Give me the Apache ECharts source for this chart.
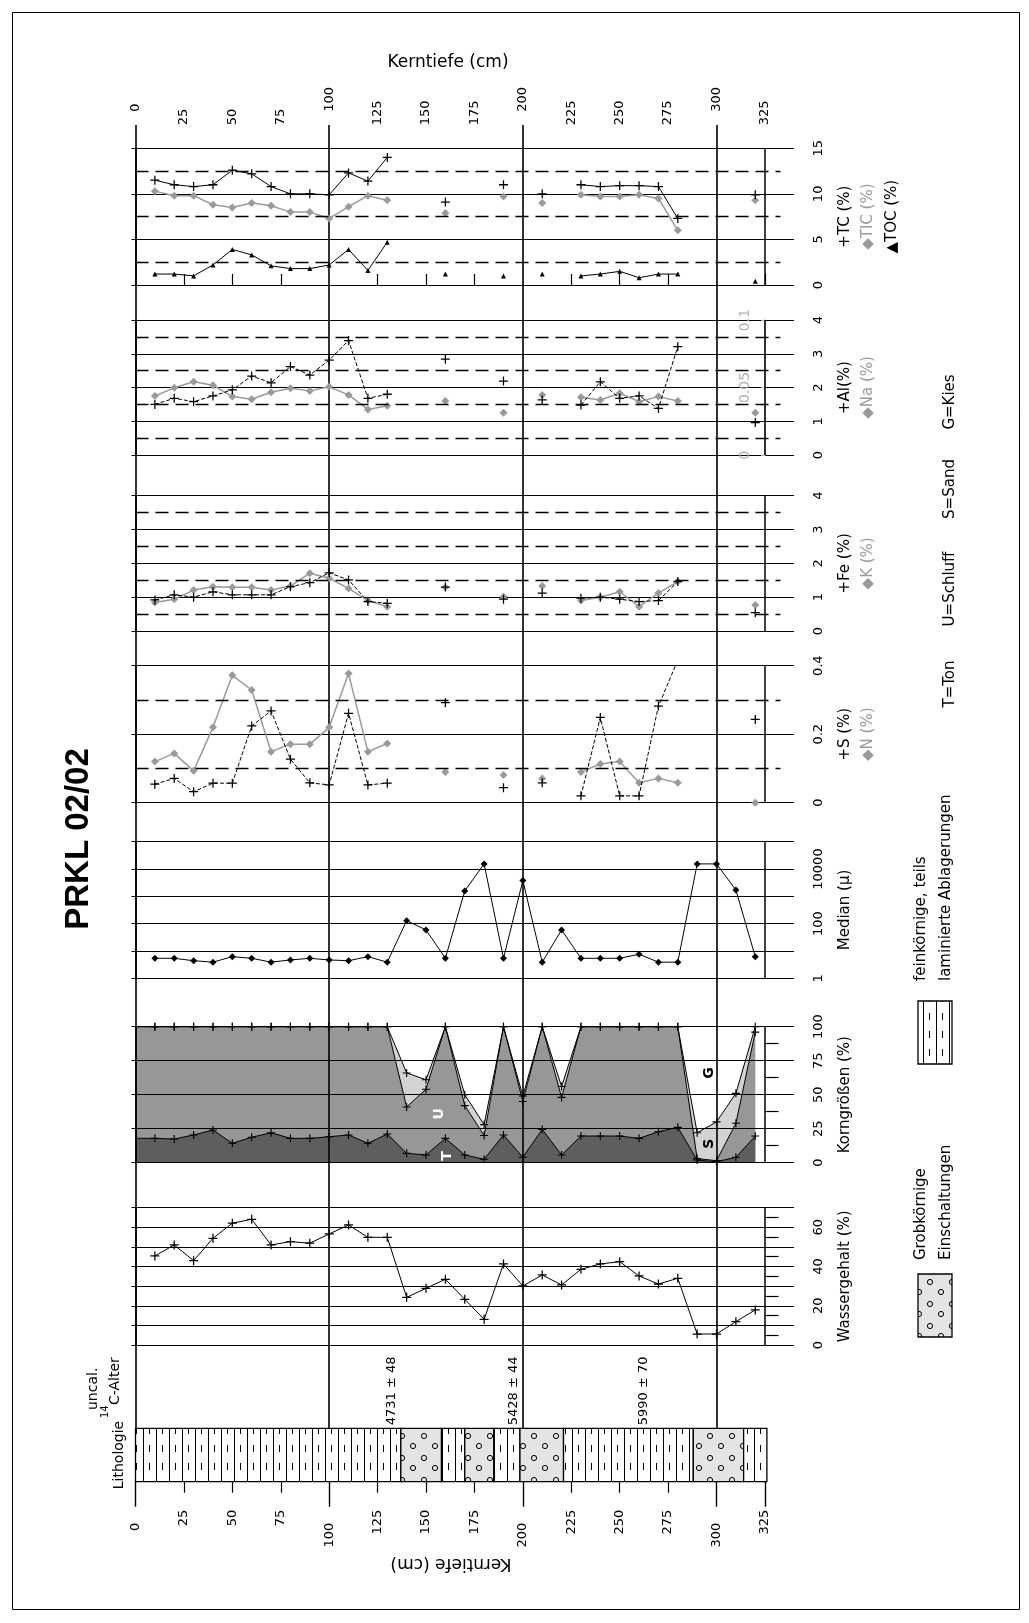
<!DOCTYPE html>
<html>
<head>
<meta charset="utf-8">
<script src="https://cdn.jsdelivr.net/npm/echarts@6/dist/echarts.min.js"></script>
<style>
  html, body { margin: 0; padding: 0; background: #fff; }
  #chart { width: 1029px; height: 1623px; }
</style>
</head>
<body>
<div id="chart"></div>
<script>
// Core PRKL 02/02 — sample depths (cm) and measured profiles
const depths = [10,20,30,40,50,60,70,80,90,100,110,120,130,140,150,160,170,180,190,200,210,220,230,240,250,260,270,280,290,300,310,320];

const tc  = [11.5,11.0,10.8,11.0,12.6,12.2,10.8,10.0,10.0,9.9,12.3,11.4,14.0,null,null,9.1,null,null,11.0,null,10.0,null,11.0,10.8,10.9,10.9,10.8,7.3,null,null,null,9.9];
const tic = [10.3,9.8,9.8,8.8,8.5,9.0,8.7,8.0,8.0,7.3,8.6,9.8,9.3,null,null,7.9,null,null,9.7,null,9.0,null,9.9,9.7,9.7,9.9,9.5,6.0,null,null,null,9.3];
const toc = [1.2,1.2,1.0,2.2,3.9,3.3,2.1,1.8,1.8,2.2,3.9,1.6,4.7,null,null,1.2,null,null,1.0,null,1.2,null,1.0,1.2,1.5,0.8,1.2,1.2,null,null,null,0.4];

const al  = [1.50,1.68,1.58,1.75,1.93,2.34,2.14,2.62,2.37,2.81,3.39,1.68,1.80,null,null,2.84,null,null,2.19,null,1.63,null,1.48,2.17,1.68,1.75,1.38,3.21,null,null,null,0.96];
const na  = [1.75,1.99,2.17,2.07,1.73,1.65,1.86,1.98,1.90,2.02,1.78,1.35,1.46,null,null,1.60,null,null,1.25,null,1.78,null,1.71,1.63,1.83,1.58,1.73,1.60,null,null,null,1.25];

const fe  = [0.92,1.07,1.00,1.16,1.07,1.07,1.07,1.31,1.43,1.72,1.51,0.87,0.82,null,null,1.30,null,null,0.94,null,1.12,null,0.97,1.00,0.94,0.87,0.90,1.46,null,null,null,0.54];
const k   = [0.84,0.94,1.21,1.31,1.29,1.29,1.21,1.33,1.71,1.56,1.26,0.90,0.72,null,null,1.29,null,null,1.01,null,1.33,null,0.90,1.00,1.16,0.72,1.12,1.46,null,null,null,0.77];

const s   = [0.054,0.071,0.032,0.057,0.057,0.224,0.268,0.127,0.058,0.052,0.261,0.052,0.057,null,null,0.292,null,null,0.044,null,0.058,null,0.020,0.249,0.020,0.020,0.282,0.416,null,null,null,0.243];
const n   = [0.120,0.144,0.093,0.220,0.372,0.329,0.149,0.171,0.171,0.220,0.377,0.149,0.173,null,null,0.090,null,null,0.081,null,0.071,null,0.090,0.113,0.120,0.058,0.071,0.058,null,null,null,0.000];

const median = [5.4,5.4,4.4,3.9,6.2,5.4,3.9,4.7,5.4,4.7,4.4,6.2,3.9,129,59,5.4,1580,15400,5.4,3780,3.9,59,5.4,5.4,5.4,7.6,3.9,3.9,15400,15400,1700,6.2];

// grain size, cumulative: Ton, Ton+Schluff, Ton+Schluff+Sand (%)
const grainT   = [17.9,17.4,20.4,24.0,14.3,18.7,22.0,17.9,17.9,19.1,20.4,14.3,21.1,6.9,5.7,17.9,5.7,2.5,20.4,4.0,24.5,5.7,19.6,19.6,19.6,17.9,22.8,26.0,2.0,0.7,4.0,19.6];
const grainTU  = [100,100,100,100,100,100,100,100,100,100,100,100,100,41,54,100,42,20,100,45,100,48,100,100,100,100,100,100,3,1.5,29,96];
const grainTUS = [100,100,100,100,100,100,100,100,100,100,100,100,100,66,61,100,50,28,100,49,100,56,100,100,100,100,100,100,22,30,51,100];

const water = [45.4,51.0,43.0,54.4,62.1,64.1,51.0,52.7,51.9,56.6,61.2,54.9,54.9,24.3,28.9,33.5,23.3,13.1,41.3,30.1,35.7,30.6,38.6,41.3,42.5,35.2,31.1,34.0,5.6,5.6,11.9,17.9];

// lithology column: from / to (cm), 0 = feinkörnig laminiert, 1 = grobkörnig
const lithFrom = [0,137,158,170,185,198.5,221,288,314];
const lithTo   = [137,158,170,185,198.5,221,288,314,326];
const lithKind = [0,1,0,1,0,1,0,1,0];

// uncalibrated 14C ages
const ageDepth = [132,195,262.5];
const ageLabel = ['4731 \u00b1 48','5428 \u00b1 44','5990 \u00b1 70'];

// grain-size class letters: [depth, %]
const classLetters = [
  {t:'U', d:157, v:36, c:'#fff'},
  {t:'T', d:161, v:5,  c:'#fff'},
  {t:'S', d:296.5, v:14, c:'#000'},
  {t:'G', d:296.5, v:66, c:'#000'}
];

// depth-axis tick values
const depthMinor = [25,50,75,125,150,175,225,250,275,325];
const depthMajor = [0,100,200,300];

// ---------------------------------------------------------------
const FONT = '"DejaVu Sans", sans-serif';
const PLUS = 'path://M4.3,0H5.7V4.3H10V5.7H5.7V10H4.3V5.7H0V4.3H4.3Z';
const GRAY = '#9a9a9a';
const pairs = arr => depths.map((d, i) => [d, arr[i]]);
// area layers start at the core top, carrying the uppermost sample value
const areaPairs = arr => [{value: [0, arr[0]], symbol: 'none'}].concat(pairs(arr));

function mkFine() {
  const c = document.createElement('canvas'); c.width = 13; c.height = 18;
  const g = c.getContext('2d');
  g.fillStyle = '#fff'; g.fillRect(0, 0, 13, 18);
  g.strokeStyle = '#000'; g.lineWidth = 1;
  g.beginPath(); g.moveTo(0.5, 0); g.lineTo(0.5, 18); g.stroke();
  g.beginPath(); g.moveTo(6.5, 5); g.lineTo(6.5, 12); g.stroke();
  return c;
}
function mkCoarse() {
  const c = document.createElement('canvas'); c.width = 22; c.height = 22;
  const g = c.getContext('2d');
  g.fillStyle = '#e4e4e4'; g.fillRect(0, 0, 22, 22);
  g.strokeStyle = '#000'; g.lineWidth = 1;
  [[6,6],[17,16]].forEach(([x,y]) => { g.beginPath(); g.arc(x, y, 2.6, 0, Math.PI*2); g.stroke(); });
  return c;
}
const patterns = [
  {image: mkFine(), repeat: 'repeat'},
  {image: mkCoarse(), repeat: 'repeat'}
];

const L = 135.5, W = 658.5;
const grid = (top, height) => ({left: L, width: W, top, height, outerBoundsMode: 'none', containLabel: false});
const panels = {
  bg:    grid(125, 1303.3),
  tc:    grid(148.3, 136.7),
  al:    grid(320, 135),
  fe:    grid(495.7, 135.3),
  s:     grid(665.7, 137),
  med:   grid(841.7, 136.6),
  grain: grid(1026.7, 136),
  water: grid(1207.7, 137.3),
  lith:  grid(1428.3, 53.4)
};
const gridList = [panels.bg, panels.tc, panels.al, panels.fe, panels.s, panels.med, panels.grain, panels.water, panels.lith];

const hiddenX = gi => ({type: 'value', gridIndex: gi, min: 0, max: 340, show: false});
const labelStyle = {color: '#000', fontFamily: FONT, fontSize: 13};

const xAxes = [
  {type: 'value', gridIndex: 0, min: 0, max: 340, interval: 100, position: 'top', z: 3,
   axisLine: {show: false}, axisTick: {show: false}, axisLabel: {show: false},
   splitLine: {show: true, showMaxLine: false, lineStyle: {color: '#000', width: 1.6}}},
  {type: 'value', gridIndex: 1, min: 0, max: 340, position: 'top',
   axisLine: {show: false}, splitLine: {show: false},
   axisTick: {show: true, length: 11, customValues: depthMinor, lineStyle: {color: '#000', width: 1.2}},
   axisLabel: Object.assign({customValues: depthMinor, rotate: 90, margin: 23, align: 'left', verticalAlign: 'middle'}, labelStyle)},
  {type: 'value', gridIndex: 1, min: 0, max: 340, position: 'top',
   axisLine: {show: false}, splitLine: {show: false}, axisTick: {show: false},
   axisLabel: Object.assign({customValues: depthMajor, rotate: 90, margin: 36.5, align: 'left', verticalAlign: 'middle'}, labelStyle)},
  hiddenX(2), hiddenX(3), hiddenX(4), hiddenX(5), hiddenX(6), hiddenX(7),
  {type: 'value', gridIndex: 8, min: 0, max: 340, position: 'bottom',
   axisLine: {show: false}, splitLine: {show: false},
   axisTick: {show: true, length: 11, customValues: [25,50,75,125,150,175,225,250,275], lineStyle: {color: '#000', width: 1.2}},
   axisLabel: Object.assign({customValues: depthMinor, rotate: 90, margin: 28, align: 'right', verticalAlign: 'middle'}, labelStyle)},
  {type: 'value', gridIndex: 8, min: 0, max: 340, position: 'bottom',
   axisLine: {show: false}, splitLine: {show: false},
   axisTick: {show: true, length: 25, customValues: [0,100,200,300,325], lineStyle: {color: '#000', width: 1.4}},
   axisLabel: Object.assign({customValues: depthMajor, rotate: 90, margin: 41, align: 'right', verticalAlign: 'middle'}, labelStyle)}
];

function leftAxis(gi, range, extra) {
  return Object.assign({
    gridIndex: gi, position: 'left',
    axisLine: {show: true, lineStyle: {color: '#000', width: 1.5}},
    axisTick: {show: true, length: 4, lineStyle: {color: '#000'}},
    axisLabel: {show: false},
    splitLine: {show: true, lineStyle: {color: '#000', width: 1.2}}
  }, range, extra || {});
}
function rightAxis(gi, range, fmt) {
  return Object.assign({
    gridIndex: gi, position: 'right',
    axisLine: {show: false}, axisTick: {show: false}, splitLine: {show: false},
    axisLabel: Object.assign({show: true, rotate: 90, margin: 18, align: 'center', verticalAlign: 'top',
      showMinLabel: true, showMaxLabel: true, formatter: fmt}, labelStyle)
  }, range);
}
const rTC  = {type: 'value', min: 0, max: 15, interval: 5};
const r4   = {type: 'value', min: 0, max: 4, interval: 1};
const rS   = {type: 'value', min: 0, max: 0.4, interval: 0.2};
const rMed = {type: 'log', logBase: 10, min: 1, max: 100000};
const rGr  = {type: 'value', min: 0, max: 100, interval: 25};
const rW   = {type: 'value', min: 0, max: 70, interval: 10};

const yAxes = [
  {type: 'value', gridIndex: 0, min: 0, max: 1, show: false},
  leftAxis(1, rTC), rightAxis(1, rTC, v => String(v)),
  leftAxis(2, r4), rightAxis(2, r4, v => String(v)),
  {type: 'value', gridIndex: 2, min: 0, max: 0.1, interval: 0.05, position: 'right', offset: -29,
   axisLine: {show: true, lineStyle: {color: '#b4b4b4', width: 1.5}},
   axisTick: {show: true, inside: true, length: 4, lineStyle: {color: '#b4b4b4'}},
   splitLine: {show: false},
   axisLabel: {inside: true, rotate: 90, margin: 13, align: 'center', verticalAlign: 'bottom',
     color: '#b0b0b0', fontFamily: FONT, fontSize: 14, showMinLabel: true, showMaxLabel: true,
     formatter: v => v === 0 ? '0' : String(+v.toFixed(2))}},
  leftAxis(3, r4), rightAxis(3, r4, v => String(v)),
  leftAxis(4, rS), rightAxis(4, rS, v => v === 0 ? '0' : String(+v.toFixed(1))),
  leftAxis(5, rMed), rightAxis(5, rMed, v => { const r = Math.round(v); return (r === 1 || r === 100 || r === 10000) ? String(r) : ''; }),
  leftAxis(6, rGr, {z: 3}), rightAxis(6, rGr, v => String(v)),
  leftAxis(7, rW), rightAxis(7, rW, v => (Math.round(v) % 20 === 0) ? String(Math.round(v)) : ''),
  {type: 'value', gridIndex: 8, min: 0, max: 1, show: false}
];

// reference lines: dashed half-steps, right-hand border at 325 cm, short side ticks
function guides(dashed, sideTicks) {
  const data = [];
  (dashed || []).forEach(v => data.push([{coord: [0, v]}, {coord: [333, v]}]));
  data.push({xAxis: 325, lineStyle: {type: 'solid', width: 1.5}});
  (sideTicks || []).forEach(v => data.push([{coord: [325, v], lineStyle: {type: 'solid', width: 1.2}}, {coord: [332, v]}]));
  return {silent: true, symbol: ['none', 'none'], label: {show: false}, animation: false,
          lineStyle: {color: '#000', width: 1.3, type: [13, 7]}, data};
}

function lineSeries(name, xi, yi, arr, o) {
  return Object.assign({
    name, type: 'line', xAxisIndex: xi, yAxisIndex: yi, data: pairs(arr),
    connectNulls: false, showSymbol: true, silent: true, animation: false,
    symbol: PLUS, symbolSize: 9, symbolKeepAspect: true,
    itemStyle: {color: '#000'},
    lineStyle: {color: '#000', width: 1},
    z: 4
  }, o);
}
const grayStyle = {symbol: 'diamond', symbolSize: 8, itemStyle: {color: GRAY}, lineStyle: {color: GRAY, width: 1.5}, z: 3};
const dashedBlack = {lineStyle: {color: '#000', width: 1, type: [4, 2]}};

const series = [
  lineSeries('TIC', 1, 1, tic, grayStyle),
  lineSeries('TC', 1, 1, tc, {markLine: guides([2.5, 7.5, 12.5])}),
  lineSeries('TOC', 1, 1, toc, {symbol: 'triangle', symbolSize: 5}),

  lineSeries('Na', 3, 3, na, grayStyle),
  lineSeries('Al', 3, 3, al, Object.assign({markLine: guides([0.5, 1.5, 2.5, 3.5])}, dashedBlack)),

  lineSeries('K', 4, 6, k, grayStyle),
  lineSeries('Fe', 4, 6, fe, Object.assign({markLine: guides([0.5, 1.5, 2.5, 3.5])}, dashedBlack)),

  lineSeries('N', 5, 8, n, grayStyle),
  lineSeries('S', 5, 8, s, Object.assign({markLine: guides([0.1, 0.3])}, dashedBlack)),

  lineSeries('Median', 6, 10, median, {symbol: 'diamond', symbolSize: 7, markLine: guides([])}),

  lineSeries('Sand', 7, 12, grainTUS, {data: areaPairs(grainTUS), symbolSize: 8, z: 2, areaStyle: {color: '#d3d3d3', opacity: 1}}),
  lineSeries('Schluff', 7, 12, grainTU, {data: areaPairs(grainTU), symbolSize: 8, z: 2, areaStyle: {color: '#979797', opacity: 1}}),
  lineSeries('Ton', 7, 12, grainT, {data: areaPairs(grainT), symbolSize: 8, z: 2, areaStyle: {color: '#5e5e5e', opacity: 1},
    markLine: guides([], [12.5, 37.5, 62.5, 87.5])}),

  lineSeries('Wassergehalt', 8, 14, water, {markLine: guides([], [5, 15, 25, 35, 45, 55, 65])}),

  {type: 'custom', name: 'Lithologie', xAxisIndex: 9, yAxisIndex: 16, silent: true, animation: false,
   data: lithFrom.map((f, i) => [f, lithTo[i], lithKind[i]]),
   encode: {x: [0, 1]},
   renderItem: (params, api) => {
     const p0 = api.coord([api.value(0), 1]);
     const p1 = api.coord([api.value(1), 0]);
     return {type: 'rect',
       shape: {x: p0[0], y: p0[1], width: p1[0] - p0[0], height: p1[1] - p0[1]},
       style: {fill: patterns[api.value(2)], stroke: '#000', lineWidth: 1.3}};
   }}
];

const chart = echarts.init(document.getElementById('chart'), null, {renderer: 'canvas'});
chart.setOption({
  animation: false,
  backgroundColor: '#fff',
  grid: gridList,
  xAxis: xAxes,
  yAxis: yAxes,
  series
});

// ---------------- text annotations ----------------
const R90 = Math.PI / 2;
function txt(x, y, text, opt) {
  opt = opt || {};
  return {type: 'text', x, y, rotation: opt.rot === undefined ? R90 : opt.rot, z: 20, silent: true,
    style: {text, fill: opt.color || '#000', font: opt.font || ('15px ' + FONT),
            align: opt.align || 'center', verticalAlign: opt.valign || 'middle'}};
}
const mid = g => g.top + g.height / 2;
const graphics = [
  {type: 'rect', shape: {x: 12.5, y: 12.5, width: 1007, height: 1597}, style: {fill: 'none', stroke: '#000', lineWidth: 1}, z: 20, silent: true},
  txt(448, 63, 'Kerntiefe (cm)', {rot: 0, font: '17px ' + FONT}),
  txt(451, 1563, 'Kerntiefe (cm)', {rot: Math.PI, font: '17px ' + FONT}),
  txt(79, 839, 'PRKL 02/02', {font: 'bold 33px "Liberation Sans", Arial, sans-serif'}),

  txt(845, mid(panels.tc), '+TC (%)'),
  txt(868, mid(panels.tc), '\u25c6TIC (%)', {color: GRAY}),
  txt(892, mid(panels.tc), '\u25b2TOC (%)'),
  txt(845, mid(panels.al), '+Al(%)'),
  txt(868, mid(panels.al), '\u25c6Na (%)', {color: GRAY}),
  txt(845, mid(panels.fe), '+Fe (%)'),
  txt(868, mid(panels.fe), '\u25c6K (%)', {color: GRAY}),
  txt(845, mid(panels.s), '+S (%)'),
  txt(868, mid(panels.s), '\u25c6N (%)', {color: GRAY}),
  txt(845, mid(panels.med), 'Median (\u00b5)'),
  txt(845, mid(panels.grain), 'Korngr\u00f6\u00dfen (%)'),
  txt(845, mid(panels.water), 'Wassergehalt (%)'),

  txt(950, 684, 'T=Ton'),
  txt(950, 589, 'U=Schluff'),
  txt(950, 489, 'S=Sand'),
  txt(950, 402, 'G=Kies'),

  txt(921, 981, 'feink\u00f6rnige, teils', {align: 'left'}),
  txt(946, 981, 'laminierte Ablagerungen', {align: 'left'}),
  {type: 'rect', shape: {x: 918, y: 1001, width: 34, height: 63}, style: {fill: patterns[0], stroke: '#000', lineWidth: 1.3}, z: 20, silent: true},
  txt(921, 1260, 'Grobk\u00f6rnige', {align: 'left'}),
  txt(946, 1260, 'Einschaltungen', {align: 'left'}),
  {type: 'rect', shape: {x: 918, y: 1274, width: 34, height: 63}, style: {fill: patterns[1], stroke: '#000', lineWidth: 1.3}, z: 20, silent: true},

  txt(119, 1455, 'Lithologie', {font: '14px ' + FONT}),
  txt(93, 1410, 'uncal.', {align: 'left', font: '14px ' + FONT}),
  txt(105, 1418, '14', {align: 'left', font: '10px ' + FONT}),
  txt(115, 1405, 'C-Alter', {align: 'left', font: '14px ' + FONT})
];

ageDepth.forEach((d, i) => {
  const p = chart.convertToPixel({gridIndex: 8}, [d, 1]);
  graphics.push(txt(p[0], p[1] - 3, ageLabel[i], {align: 'left', font: '13px ' + FONT}));
});
classLetters.forEach(c => {
  const p = chart.convertToPixel({gridIndex: 6}, [c.d, c.v]);
  graphics.push(txt(p[0], p[1], c.t, {color: c.c, font: 'bold 14px ' + FONT}));
});

chart.setOption({graphic: graphics});
</script>
</body>
</html>
